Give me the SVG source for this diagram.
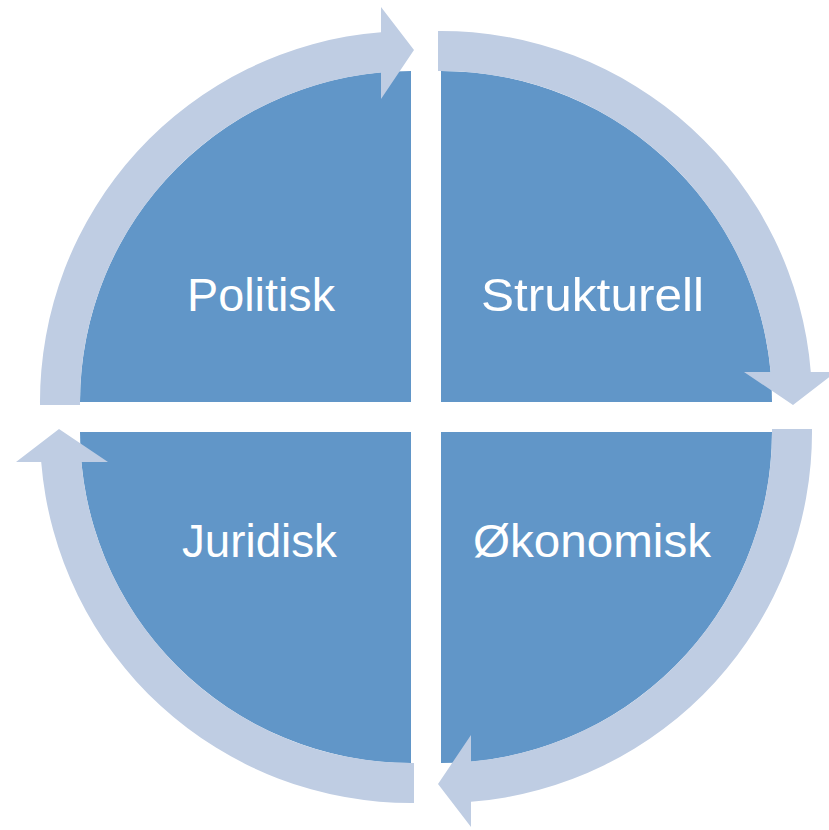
<svg xmlns="http://www.w3.org/2000/svg" xmlns:xlink="http://www.w3.org/1999/xlink" width="829" height="830" viewBox="0 0 829 830">
  <style>
    .sector { fill: #6196C8; }
    .band { fill: #BFCDE3; }
    .label { fill: #FFFFFF; font-family: "Liberation Sans", Arial, sans-serif; font-size: 47px; }
  </style>
  <defs>
    <path id="bandArrow" d="M 438 31 A 371 371 0 0 1 810.8 372 L 836 372 L 793 405 L 744 372 L 770.6 372 A 331 331 0 0 0 438 71 Z"/>
  </defs>
  <rect x="0" y="0" width="829" height="830" fill="#FFFFFF"/>
  <g id="node-politisk">
    <path class="sector" d="M 411 402 L 80 402 A 331 331 0 0 1 411 71 Z"/>
    <text class="label" x="187" y="311" textLength="148" lengthAdjust="spacingAndGlyphs">Politisk</text>
  </g>
  <g id="node-strukturell">
    <path class="sector" d="M 441 402 L 441 71 A 331 331 0 0 1 772 402 Z"/>
    <text class="label" x="481" y="311" textLength="223" lengthAdjust="spacingAndGlyphs">Strukturell</text>
  </g>
  <g id="node-okonomisk">
    <path class="sector" d="M 441 432 L 772 432 A 331 331 0 0 1 441 763 Z"/>
    <text class="label" x="473" y="557" textLength="238" lengthAdjust="spacingAndGlyphs">Økonomisk</text>
  </g>
  <g id="node-juridisk">
    <path class="sector" d="M 411 432 L 411 763 A 331 331 0 0 1 80 432 Z"/>
    <text class="label" x="182" y="557" textLength="155" lengthAdjust="spacingAndGlyphs">Juridisk</text>
  </g>
  <g id="connectors">
    <use class="band" xlink:href="#bandArrow" href="#bandArrow"/>
    <use class="band" xlink:href="#bandArrow" href="#bandArrow" transform="rotate(90 426 417)"/>
    <use class="band" xlink:href="#bandArrow" href="#bandArrow" transform="rotate(180 426 417)"/>
    <use class="band" xlink:href="#bandArrow" href="#bandArrow" transform="rotate(270 426 417)"/>
  </g>
</svg>
